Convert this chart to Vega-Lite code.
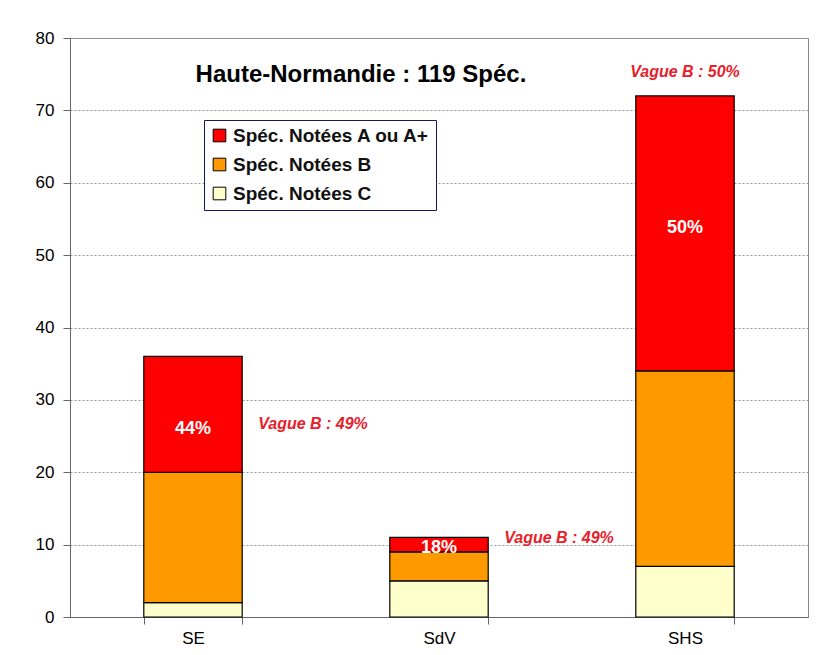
{
  "$schema": "https://vega.github.io/schema/vega-lite/v6.json",
  "width": 738,
  "height": 579,
  "autosize": {"type": "none"},
  "padding": {"left": 70, "top": 38, "right": 11, "bottom": 38},
  "background": "white",
  "config": {
    "font": "Liberation Sans",
    "view": {"stroke": "#888888", "strokeWidth": 1},
    "axis": {"labelFont": "Liberation Sans", "labelColor": "#000000", "labelFontSize": 17}
  },
  "title": {
    "text": "Haute-Normandie : 119 Spéc.",
    "font": "Liberation Sans",
    "fontSize": 24,
    "fontWeight": "bold",
    "color": "#000000",
    "anchor": "middle",
    "frame": "group",
    "dx": -78,
    "dy": 62
  },
  "datasets": {
    "bars": [
      {"cat": "SE", "serie": "Spéc. Notées C", "rang": 1, "n": 2},
      {"cat": "SE", "serie": "Spéc. Notées B", "rang": 2, "n": 18},
      {"cat": "SE", "serie": "Spéc. Notées A ou A+", "rang": 3, "n": 16},
      {"cat": "SdV", "serie": "Spéc. Notées C", "rang": 1, "n": 5},
      {"cat": "SdV", "serie": "Spéc. Notées B", "rang": 2, "n": 4},
      {"cat": "SdV", "serie": "Spéc. Notées A ou A+", "rang": 3, "n": 2},
      {"cat": "SHS", "serie": "Spéc. Notées C", "rang": 1, "n": 7},
      {"cat": "SHS", "serie": "Spéc. Notées B", "rang": 2, "n": 27},
      {"cat": "SHS", "serie": "Spéc. Notées A ou A+", "rang": 3, "n": 38}
    ],
    "pct": [
      {"cat": "SE", "y": 26, "label": "44%"},
      {"cat": "SdV", "y": 9.5, "label": "18%"},
      {"cat": "SHS", "y": 53.7, "label": "50%"}
    ],
    "vague": [
      {"cat": "SE", "y": 26.6, "label": "Vague B : 49%", "side": "right"},
      {"cat": "SdV", "y": 10.9, "label": "Vague B : 49%", "side": "right"},
      {"cat": "SHS", "y": 75.3, "label": "Vague B : 50%", "side": "top"}
    ]
  },
  "encoding": {
    "x": {
      "field": "cat",
      "type": "nominal",
      "sort": ["SE", "SdV", "SHS"],
      "scale": {"paddingInner": 0.6, "paddingOuter": 0.3},
      "axis": {
        "title": null,
        "labelAngle": 0,
        "domainColor": "#666666",
        "tickColor": "#666666",
        "tickBand": "extent",
        "tickSize": 7,
        "labelPadding": 6
      }
    }
  },
  "layer": [
    {
      "data": {"name": "bars"},
      "mark": {"type": "bar", "stroke": "#000000", "strokeWidth": 1.2},
      "encoding": {
        "y": {
          "field": "n",
          "type": "quantitative",
          "stack": "zero",
          "scale": {"domain": [0, 80]},
          "axis": {
            "title": null,
            "values": [0, 10, 20, 30, 40, 50, 60, 70, 80],
            "grid": true,
            "gridColor": "#999999",
            "gridDash": [2, 2],
            "gridWidth": 1,
            "domainColor": "#666666",
            "tickColor": "#666666",
            "tickSize": 7,
            "labelPadding": 9
          }
        },
        "color": {
          "field": "serie",
          "type": "nominal",
          "scale": {
            "domain": ["Spéc. Notées A ou A+", "Spéc. Notées B", "Spéc. Notées C"],
            "range": ["#FF0000", "#FF9900", "#FFFFCC"]
          },
          "legend": {
            "title": null,
            "orient": "none",
            "legendX": 134,
            "legendY": 82,
            "fillColor": "#FFFFFF",
            "strokeColor": "#1a1a5a",
            "padding": 6,
            "rowPadding": 9,
            "labelFontSize": 19,
            "labelFont": "Liberation Sans",
            "labelFontWeight": "bold",
            "labelColor": "#111111",
            "labelLimit": 400,
            "symbolType": "square",
            "symbolSize": 160,
            "symbolStrokeColor": "#000000",
            "symbolStrokeWidth": 1,
            "symbolOpacity": 1,
            "labelOffset": 4
          }
        },
        "order": {"field": "rang", "type": "quantitative"}
      }
    },
    {
      "data": {"name": "pct"},
      "mark": {"type": "text", "color": "#FFFFFF", "fontSize": 18, "fontWeight": "bold", "font": "Liberation Sans"},
      "encoding": {
        "y": {"field": "y", "type": "quantitative"},
        "text": {"field": "label"}
      }
    },
    {
      "data": {"name": "vague"},
      "transform": [{"filter": "datum.side == 'right'"}],
      "mark": {"type": "text", "color": "#E8202A", "fontSize": 16, "fontWeight": "bold", "fontStyle": "italic", "font": "Liberation Sans", "dx": 120},
      "encoding": {
        "y": {"field": "y", "type": "quantitative"},
        "text": {"field": "label"}
      }
    },
    {
      "data": {"name": "vague"},
      "transform": [{"filter": "datum.side == 'top'"}],
      "mark": {"type": "text", "color": "#E8202A", "fontSize": 16, "fontWeight": "bold", "fontStyle": "italic", "font": "Liberation Sans"},
      "encoding": {
        "y": {"field": "y", "type": "quantitative"},
        "text": {"field": "label"}
      }
    }
  ]
}
